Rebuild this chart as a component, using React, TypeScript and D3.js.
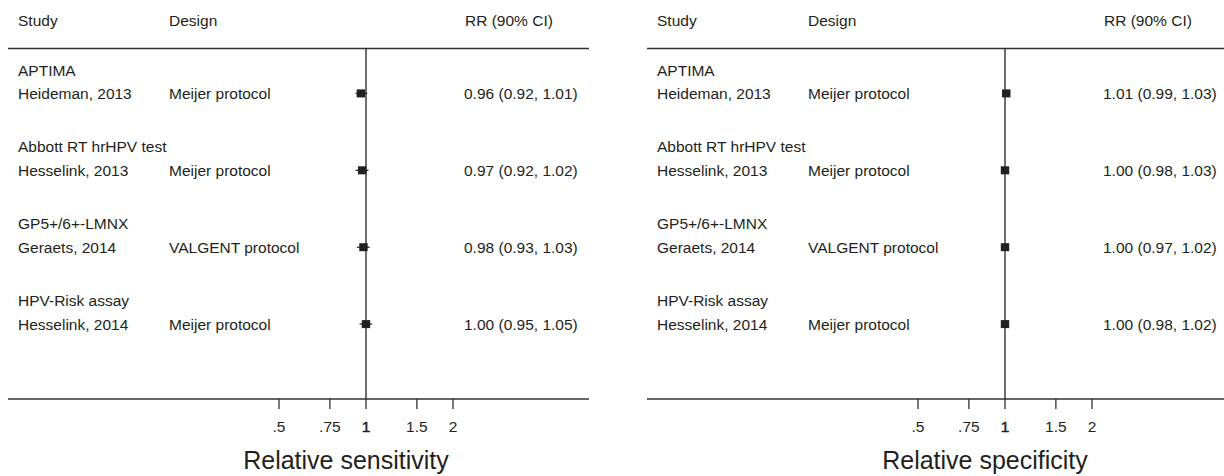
import React, { useEffect, useRef } from 'react'
import * as d3 from 'd3'

const groups = ['APTIMA', 'Abbott RT hrHPV test', 'GP5+/6+-LMNX', 'HPV-Risk assay']
const studies = ['Heideman, 2013', 'Hesselink, 2013', 'Geraets, 2014', 'Hesselink, 2014']
const designs = ['Meijer protocol', 'Meijer protocol', 'VALGENT protocol', 'Meijer protocol']

const sensRR = [0.96, 0.97, 0.98, 1.0]
const sensLo = [0.92, 0.92, 0.93, 0.95]
const sensHi = [1.01, 1.02, 1.03, 1.05]

const specRR = [1.01, 1.0, 1.0, 1.0]
const specLo = [0.99, 0.98, 0.97, 0.98]
const specHi = [1.03, 1.03, 1.02, 1.02]

const tickValues = [0.5, 0.75, 1, 1.5, 2]
const tickLabels = ['.5', '.75', '1', '1.5', '2']

const W = 1224
const H = 476
const FONT = '"Liberation Sans", Arial, Helvetica, sans-serif'
const INK = '#231f20'
const FS = 15.5

function fmt(v) {
    return v.toFixed(2)
}

function drawPanel(svg, x0, title, rr, lo, hi) {
    const g = svg.append('g').attr('transform', 'translate(' + x0 + ',0)')
    const panelW = 581
    const headerY = 48.5
    const axisY = 399

    const x = d3.scaleLog().domain([0.5, 2]).range([271, 445])

    const yGroup = d3.scaleLinear().domain([0, 3]).range([70, 70 + 3 * 76.9])
    const yStudy = (i) => yGroup(i) + 23.4

    // column headers
    const head = g.append('g')
        .attr('font-family', FONT)
        .attr('font-size', FS)
        .attr('fill', INK)
    head.append('text').attr('x', 10).attr('y', 26).text('Study')
    head.append('text').attr('x', 161).attr('y', 26).text('Design')
    head.append('text').attr('x', 457).attr('y', 26).text('RR (90% CI)')

    g.append('line')
        .attr('x1', 0).attr('x2', panelW)
        .attr('y1', headerY).attr('y2', headerY)
        .attr('stroke', '#333').attr('stroke-width', 1.5)

    // null line
    g.append('line')
        .attr('x1', x(1)).attr('x2', x(1))
        .attr('y1', headerY).attr('y2', axisY)
        .attr('stroke', INK).attr('stroke-width', 1.3)

    const rows = g.append('g')
        .attr('font-family', FONT)
        .attr('font-size', FS)
        .attr('fill', INK)
        .selectAll('g')
        .data(groups)
        .enter()
        .append('g')

    rows.append('text')
        .attr('x', 10)
        .attr('y', (d, i) => yGroup(i) + 5.5)
        .text((d) => d)
    rows.append('text')
        .attr('x', 10)
        .attr('y', (d, i) => yStudy(i) + 5.5)
        .text((d, i) => studies[i])
    rows.append('text')
        .attr('x', 161)
        .attr('y', (d, i) => yStudy(i) + 5.5)
        .text((d, i) => designs[i])
    rows.append('text')
        .attr('x', 456)
        .attr('y', (d, i) => yStudy(i) + 5.5)
        .text((d, i) => fmt(rr[i]) + ' (' + fmt(lo[i]) + ', ' + fmt(hi[i]) + ')')

    // confidence intervals and point estimates
    rows.append('line')
        .attr('x1', (d, i) => x(lo[i]))
        .attr('x2', (d, i) => x(hi[i]))
        .attr('y1', (d, i) => yStudy(i))
        .attr('y2', (d, i) => yStudy(i))
        .attr('stroke', INK)
        .attr('stroke-width', 1.2)
    rows.append('rect')
        .attr('x', (d, i) => x(rr[i]) - 4.2)
        .attr('y', (d, i) => yStudy(i) - 4)
        .attr('width', 8.4)
        .attr('height', 8)
        .attr('fill', INK)

    // axis
    g.append('line')
        .attr('x1', 0).attr('x2', panelW)
        .attr('y1', axisY).attr('y2', axisY)
        .attr('stroke', '#333').attr('stroke-width', 1.5)

    const ticks = g.append('g').selectAll('g')
        .data(tickValues)
        .enter()
        .append('g')
        .attr('transform', (d) => 'translate(' + x(d) + ',0)')
    ticks.append('line')
        .attr('y1', axisY).attr('y2', axisY + 10)
        .attr('stroke', INK).attr('stroke-width', 1.2)
    ticks.append('text')
        .attr('y', axisY + 33)
        .attr('text-anchor', 'middle')
        .attr('font-family', FONT)
        .attr('font-size', FS)
        .attr('fill', INK)
        .attr('stroke', (d) => d === 1 ? INK : 'none')
        .attr('stroke-width', 0.5)
        .text((d, i) => tickLabels[i])

    g.append('text')
        .attr('x', 338)
        .attr('y', 469)
        .attr('text-anchor', 'middle')
        .attr('font-family', FONT)
        .attr('font-size', 25)
        .attr('fill', INK)
        .text(title)
}

export default function App() {
    const el = useRef(null)

    useEffect(() => {
        const root = d3.select(el.current)
        root.selectAll('*').remove()
        const svg = root.append('svg')
            .attr('width', W)
            .attr('height', H)
            .style('display', 'block')
            .style('background', '#fff')
        drawPanel(svg, 8, 'Relative sensitivity', sensRR, sensLo, sensHi)
        drawPanel(svg, 647, 'Relative specificity', specRR, specLo, specHi)
    }, [])

    return <div ref={el} style={{ position: 'absolute', left: 0, top: 0 }}></div>
}
